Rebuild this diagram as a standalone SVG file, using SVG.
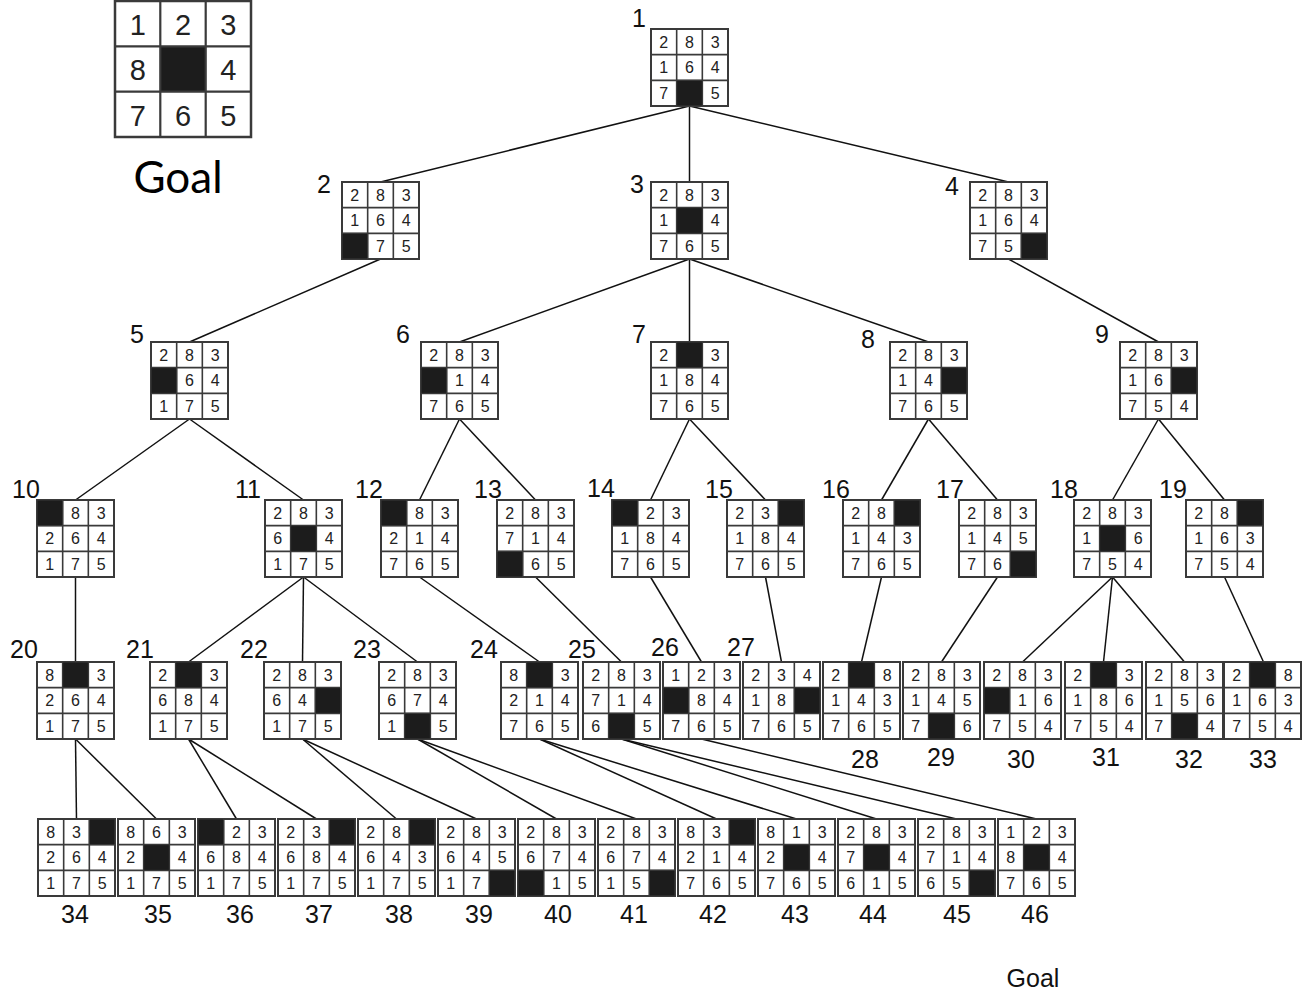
<svg xmlns="http://www.w3.org/2000/svg" xmlns:xlink="http://www.w3.org/1999/xlink" width="1302" height="993" viewBox="0 0 1302 993">
<style>
  .d{font-family:"Liberation Sans",Arial,sans-serif;font-size:16px;fill:#222;text-anchor:middle}
  .gd{font-family:"Liberation Sans",Arial,sans-serif;font-size:29px;fill:#222;text-anchor:middle}
  .lb{font-family:"Liberation Sans",Arial,sans-serif;font-size:25px;fill:#111}
  .lm{font-family:"Liberation Sans",Arial,sans-serif;font-size:25px;fill:#111;text-anchor:middle}
  .cap{font-family:Lato,"Open Sans",sans-serif;font-size:44px;fill:#000}
  .edges line{stroke:#111;stroke-width:1.5}
</style>
<defs>
  <g id="g">
    <rect width="77" height="77" fill="#fff" stroke="#3a3a3a" stroke-width="2"/>
    <path d="M25.67 0V77M51.33 0V77M0 25.67H77M0 51.33H77" stroke="#3a3a3a" stroke-width="1.6" fill="none"/>
  </g>
  <rect id="k" width="25.67" height="25.67" fill="#1c1c1c" stroke="#3a3a3a" stroke-width="1"/>
</defs>
<rect width="1302" height="993" fill="#fff"/>

<!-- goal board -->
<g id="goal">
  <rect x="115" y="1" width="136" height="136" fill="#fff" stroke="#3a3a3a" stroke-width="2.5"/>
  <rect x="160.3" y="46.3" width="45.3" height="45.3" fill="#1c1c1c"/>
  <path d="M160.3 1V137M205.7 1V137M115 46.3H251M115 91.7H251" stroke="#3a3a3a" stroke-width="2.2" fill="none"/>
  <text class="gd" x="137.7 183 228.3" y="34.5">123</text>
  <text class="gd" x="137.7 228.3" y="80">84</text>
  <text class="gd" x="137.7 183 228.3" y="125.5">765</text>
  <text class="cap" x="178" y="193" text-anchor="middle">Goal</text>
</g>

<g class="edges">
  <line x1="689.5" y1="106" x2="380.5" y2="182"/>
  <line x1="689.5" y1="106" x2="689.5" y2="182"/>
  <line x1="689.5" y1="106" x2="1008.5" y2="182"/>
  <line x1="380.5" y1="259" x2="189.5" y2="342"/>
  <line x1="689.5" y1="259" x2="459.5" y2="342"/>
  <line x1="689.5" y1="259" x2="689.5" y2="342"/>
  <line x1="689.5" y1="259" x2="928.5" y2="342"/>
  <line x1="1008.5" y1="259" x2="1158.5" y2="342"/>
  <line x1="189.5" y1="419" x2="75.5" y2="500"/>
  <line x1="189.5" y1="419" x2="303.5" y2="500"/>
  <line x1="459.5" y1="419" x2="419.5" y2="500"/>
  <line x1="459.5" y1="419" x2="535.5" y2="500"/>
  <line x1="689.5" y1="419" x2="650.5" y2="500"/>
  <line x1="689.5" y1="419" x2="765.5" y2="500"/>
  <line x1="928.5" y1="419" x2="881.5" y2="500"/>
  <line x1="928.5" y1="419" x2="997.5" y2="500"/>
  <line x1="1158.5" y1="419" x2="1112.5" y2="500"/>
  <line x1="1158.5" y1="419" x2="1224.5" y2="500"/>
  <line x1="75.5" y1="577" x2="75.5" y2="662"/>
  <line x1="303.5" y1="577" x2="188.5" y2="662"/>
  <line x1="303.5" y1="577" x2="302.5" y2="662"/>
  <line x1="303.5" y1="577" x2="417.5" y2="662"/>
  <line x1="419.5" y1="577" x2="539.5" y2="662"/>
  <line x1="535.5" y1="577" x2="621.5" y2="662"/>
  <line x1="650.5" y1="577" x2="701.5" y2="662"/>
  <line x1="765.5" y1="577" x2="781.5" y2="662"/>
  <line x1="881.5" y1="577" x2="861.5" y2="662"/>
  <line x1="997.5" y1="577" x2="941.5" y2="662"/>
  <line x1="1112.5" y1="577" x2="1022.5" y2="662"/>
  <line x1="1112.5" y1="577" x2="1103.5" y2="662"/>
  <line x1="1112.5" y1="577" x2="1184.5" y2="662"/>
  <line x1="1224.5" y1="577" x2="1263.5" y2="662"/>
  <line x1="75.5" y1="739" x2="76.5" y2="819"/>
  <line x1="75.5" y1="739" x2="156.5" y2="819"/>
  <line x1="188.5" y1="739" x2="236.5" y2="819"/>
  <line x1="188.5" y1="739" x2="316.5" y2="819"/>
  <line x1="302.5" y1="739" x2="396.5" y2="819"/>
  <line x1="302.5" y1="739" x2="476.5" y2="819"/>
  <line x1="417.5" y1="739" x2="556.5" y2="819"/>
  <line x1="417.5" y1="739" x2="636.5" y2="819"/>
  <line x1="539.5" y1="739" x2="716.5" y2="819"/>
  <line x1="539.5" y1="739" x2="796.5" y2="819"/>
  <line x1="621.5" y1="739" x2="876.5" y2="819"/>
  <line x1="621.5" y1="739" x2="956.5" y2="819"/>
  <line x1="701.5" y1="739" x2="1036.5" y2="819"/>
</g>

<!-- level 0 -->
<g id="n1" transform="translate(651 29)"><use href="#g"/><use href="#k" x="25.67" y="51.33"/>
  <text class="d" x="12.8 38.5 64.2" y="18.6">283</text><text class="d" x="12.8 38.5 64.2" y="44.3">164</text><text class="d" x="12.8 64.2" y="70">75</text></g>
<!-- level 1 -->
<g id="n2" transform="translate(342 182)"><use href="#g"/><use href="#k" x="0" y="51.33"/>
  <text class="d" x="12.8 38.5 64.2" y="18.6">283</text><text class="d" x="12.8 38.5 64.2" y="44.3">164</text><text class="d" x="38.5 64.2" y="70">75</text></g>
<g id="n3" transform="translate(651 182)"><use href="#g"/><use href="#k" x="25.67" y="25.67"/>
  <text class="d" x="12.8 38.5 64.2" y="18.6">283</text><text class="d" x="12.8 64.2" y="44.3">14</text><text class="d" x="12.8 38.5 64.2" y="70">765</text></g>
<g id="n4" transform="translate(970 182)"><use href="#g"/><use href="#k" x="51.33" y="51.33"/>
  <text class="d" x="12.8 38.5 64.2" y="18.6">283</text><text class="d" x="12.8 38.5 64.2" y="44.3">164</text><text class="d" x="12.8 38.5" y="70">75</text></g>
<!-- level 2 -->
<g id="n5" transform="translate(151 342)"><use href="#g"/><use href="#k" x="0" y="25.67"/>
  <text class="d" x="12.8 38.5 64.2" y="18.6">283</text><text class="d" x="38.5 64.2" y="44.3">64</text><text class="d" x="12.8 38.5 64.2" y="70">175</text></g>
<g id="n6" transform="translate(421 342)"><use href="#g"/><use href="#k" x="0" y="25.67"/>
  <text class="d" x="12.8 38.5 64.2" y="18.6">283</text><text class="d" x="38.5 64.2" y="44.3">14</text><text class="d" x="12.8 38.5 64.2" y="70">765</text></g>
<g id="n7" transform="translate(651 342)"><use href="#g"/><use href="#k" x="25.67" y="0"/>
  <text class="d" x="12.8 64.2" y="18.6">23</text><text class="d" x="12.8 38.5 64.2" y="44.3">184</text><text class="d" x="12.8 38.5 64.2" y="70">765</text></g>
<g id="n8" transform="translate(890 342)"><use href="#g"/><use href="#k" x="51.33" y="25.67"/>
  <text class="d" x="12.8 38.5 64.2" y="18.6">283</text><text class="d" x="12.8 38.5" y="44.3">14</text><text class="d" x="12.8 38.5 64.2" y="70">765</text></g>
<g id="n9" transform="translate(1120 342)"><use href="#g"/><use href="#k" x="51.33" y="25.67"/>
  <text class="d" x="12.8 38.5 64.2" y="18.6">283</text><text class="d" x="12.8 38.5" y="44.3">16</text><text class="d" x="12.8 38.5 64.2" y="70">754</text></g>
<!-- level 3 -->
<g id="n10" transform="translate(37 500)"><use href="#g"/><use href="#k" x="0" y="0"/>
  <text class="d" x="38.5 64.2" y="18.6">83</text><text class="d" x="12.8 38.5 64.2" y="44.3">264</text><text class="d" x="12.8 38.5 64.2" y="70">175</text></g>
<g id="n11" transform="translate(265 500)"><use href="#g"/><use href="#k" x="25.67" y="25.67"/>
  <text class="d" x="12.8 38.5 64.2" y="18.6">283</text><text class="d" x="12.8 64.2" y="44.3">64</text><text class="d" x="12.8 38.5 64.2" y="70">175</text></g>
<g id="n12" transform="translate(381 500)"><use href="#g"/><use href="#k" x="0" y="0"/>
  <text class="d" x="38.5 64.2" y="18.6">83</text><text class="d" x="12.8 38.5 64.2" y="44.3">214</text><text class="d" x="12.8 38.5 64.2" y="70">765</text></g>
<g id="n13" transform="translate(497 500)"><use href="#g"/><use href="#k" x="0" y="51.33"/>
  <text class="d" x="12.8 38.5 64.2" y="18.6">283</text><text class="d" x="12.8 38.5 64.2" y="44.3">714</text><text class="d" x="38.5 64.2" y="70">65</text></g>
<g id="n14" transform="translate(612 500)"><use href="#g"/><use href="#k" x="0" y="0"/>
  <text class="d" x="38.5 64.2" y="18.6">23</text><text class="d" x="12.8 38.5 64.2" y="44.3">184</text><text class="d" x="12.8 38.5 64.2" y="70">765</text></g>
<g id="n15" transform="translate(727 500)"><use href="#g"/><use href="#k" x="51.33" y="0"/>
  <text class="d" x="12.8 38.5" y="18.6">23</text><text class="d" x="12.8 38.5 64.2" y="44.3">184</text><text class="d" x="12.8 38.5 64.2" y="70">765</text></g>
<g id="n16" transform="translate(843 500)"><use href="#g"/><use href="#k" x="51.33" y="0"/>
  <text class="d" x="12.8 38.5" y="18.6">28</text><text class="d" x="12.8 38.5 64.2" y="44.3">143</text><text class="d" x="12.8 38.5 64.2" y="70">765</text></g>
<g id="n17" transform="translate(959 500)"><use href="#g"/><use href="#k" x="51.33" y="51.33"/>
  <text class="d" x="12.8 38.5 64.2" y="18.6">283</text><text class="d" x="12.8 38.5 64.2" y="44.3">145</text><text class="d" x="12.8 38.5" y="70">76</text></g>
<g id="n18" transform="translate(1074 500)"><use href="#g"/><use href="#k" x="25.67" y="25.67"/>
  <text class="d" x="12.8 38.5 64.2" y="18.6">283</text><text class="d" x="12.8 64.2" y="44.3">16</text><text class="d" x="12.8 38.5 64.2" y="70">754</text></g>
<g id="n19" transform="translate(1186 500)"><use href="#g"/><use href="#k" x="51.33" y="0"/>
  <text class="d" x="12.8 38.5" y="18.6">28</text><text class="d" x="12.8 38.5 64.2" y="44.3">163</text><text class="d" x="12.8 38.5 64.2" y="70">754</text></g>
<!-- level 4 -->
<g id="n20" transform="translate(37 662)"><use href="#g"/><use href="#k" x="25.67" y="0"/>
  <text class="d" x="12.8 64.2" y="18.6">83</text><text class="d" x="12.8 38.5 64.2" y="44.3">264</text><text class="d" x="12.8 38.5 64.2" y="70">175</text></g>
<g id="n21" transform="translate(150 662)"><use href="#g"/><use href="#k" x="25.67" y="0"/>
  <text class="d" x="12.8 64.2" y="18.6">23</text><text class="d" x="12.8 38.5 64.2" y="44.3">684</text><text class="d" x="12.8 38.5 64.2" y="70">175</text></g>
<g id="n22" transform="translate(264 662)"><use href="#g"/><use href="#k" x="51.33" y="25.67"/>
  <text class="d" x="12.8 38.5 64.2" y="18.6">283</text><text class="d" x="12.8 38.5" y="44.3">64</text><text class="d" x="12.8 38.5 64.2" y="70">175</text></g>
<g id="n23" transform="translate(379 662)"><use href="#g"/><use href="#k" x="25.67" y="51.33"/>
  <text class="d" x="12.8 38.5 64.2" y="18.6">283</text><text class="d" x="12.8 38.5 64.2" y="44.3">674</text><text class="d" x="12.8 64.2" y="70">15</text></g>
<g id="n24" transform="translate(501 662)"><use href="#g"/><use href="#k" x="25.67" y="0"/>
  <text class="d" x="12.8 64.2" y="18.6">83</text><text class="d" x="12.8 38.5 64.2" y="44.3">214</text><text class="d" x="12.8 38.5 64.2" y="70">765</text></g>
<g id="n25" transform="translate(583 662)"><use href="#g"/><use href="#k" x="25.67" y="51.33"/>
  <text class="d" x="12.8 38.5 64.2" y="18.6">283</text><text class="d" x="12.8 38.5 64.2" y="44.3">714</text><text class="d" x="12.8 64.2" y="70">65</text></g>
<g id="n26" transform="translate(663 662)"><use href="#g"/><use href="#k" x="0" y="25.67"/>
  <text class="d" x="12.8 38.5 64.2" y="18.6">123</text><text class="d" x="38.5 64.2" y="44.3">84</text><text class="d" x="12.8 38.5 64.2" y="70">765</text></g>
<g id="n27" transform="translate(743 662)"><use href="#g"/><use href="#k" x="51.33" y="25.67"/>
  <text class="d" x="12.8 38.5 64.2" y="18.6">234</text><text class="d" x="12.8 38.5" y="44.3">18</text><text class="d" x="12.8 38.5 64.2" y="70">765</text></g>
<g id="n28" transform="translate(823 662)"><use href="#g"/><use href="#k" x="25.67" y="0"/>
  <text class="d" x="12.8 64.2" y="18.6">28</text><text class="d" x="12.8 38.5 64.2" y="44.3">143</text><text class="d" x="12.8 38.5 64.2" y="70">765</text></g>
<g id="n29" transform="translate(903 662)"><use href="#g"/><use href="#k" x="25.67" y="51.33"/>
  <text class="d" x="12.8 38.5 64.2" y="18.6">283</text><text class="d" x="12.8 38.5 64.2" y="44.3">145</text><text class="d" x="12.8 64.2" y="70">76</text></g>
<g id="n30" transform="translate(984 662)"><use href="#g"/><use href="#k" x="0" y="25.67"/>
  <text class="d" x="12.8 38.5 64.2" y="18.6">283</text><text class="d" x="38.5 64.2" y="44.3">16</text><text class="d" x="12.8 38.5 64.2" y="70">754</text></g>
<g id="n31" transform="translate(1065 662)"><use href="#g"/><use href="#k" x="25.67" y="0"/>
  <text class="d" x="12.8 64.2" y="18.6">23</text><text class="d" x="12.8 38.5 64.2" y="44.3">186</text><text class="d" x="12.8 38.5 64.2" y="70">754</text></g>
<g id="n32" transform="translate(1146 662)"><use href="#g"/><use href="#k" x="25.67" y="51.33"/>
  <text class="d" x="12.8 38.5 64.2" y="18.6">283</text><text class="d" x="12.8 38.5 64.2" y="44.3">156</text><text class="d" x="12.8 64.2" y="70">74</text></g>
<g id="n33" transform="translate(1224 662)"><use href="#g"/><use href="#k" x="25.67" y="0"/>
  <text class="d" x="12.8 64.2" y="18.6">28</text><text class="d" x="12.8 38.5 64.2" y="44.3">163</text><text class="d" x="12.8 38.5 64.2" y="70">754</text></g>
<!-- level 5 -->
<g id="n34" transform="translate(38 819)"><use href="#g"/><use href="#k" x="51.33" y="0"/>
  <text class="d" x="12.8 38.5" y="18.6">83</text><text class="d" x="12.8 38.5 64.2" y="44.3">264</text><text class="d" x="12.8 38.5 64.2" y="70">175</text></g>
<g id="n35" transform="translate(118 819)"><use href="#g"/><use href="#k" x="25.67" y="25.67"/>
  <text class="d" x="12.8 38.5 64.2" y="18.6">863</text><text class="d" x="12.8 64.2" y="44.3">24</text><text class="d" x="12.8 38.5 64.2" y="70">175</text></g>
<g id="n36" transform="translate(198 819)"><use href="#g"/><use href="#k" x="0" y="0"/>
  <text class="d" x="38.5 64.2" y="18.6">23</text><text class="d" x="12.8 38.5 64.2" y="44.3">684</text><text class="d" x="12.8 38.5 64.2" y="70">175</text></g>
<g id="n37" transform="translate(278 819)"><use href="#g"/><use href="#k" x="51.33" y="0"/>
  <text class="d" x="12.8 38.5" y="18.6">23</text><text class="d" x="12.8 38.5 64.2" y="44.3">684</text><text class="d" x="12.8 38.5 64.2" y="70">175</text></g>
<g id="n38" transform="translate(358 819)"><use href="#g"/><use href="#k" x="51.33" y="0"/>
  <text class="d" x="12.8 38.5" y="18.6">28</text><text class="d" x="12.8 38.5 64.2" y="44.3">643</text><text class="d" x="12.8 38.5 64.2" y="70">175</text></g>
<g id="n39" transform="translate(438 819)"><use href="#g"/><use href="#k" x="51.33" y="51.33"/>
  <text class="d" x="12.8 38.5 64.2" y="18.6">283</text><text class="d" x="12.8 38.5 64.2" y="44.3">645</text><text class="d" x="12.8 38.5" y="70">17</text></g>
<g id="n40" transform="translate(518 819)"><use href="#g"/><use href="#k" x="0" y="51.33"/>
  <text class="d" x="12.8 38.5 64.2" y="18.6">283</text><text class="d" x="12.8 38.5 64.2" y="44.3">674</text><text class="d" x="38.5 64.2" y="70">15</text></g>
<g id="n41" transform="translate(598 819)"><use href="#g"/><use href="#k" x="51.33" y="51.33"/>
  <text class="d" x="12.8 38.5 64.2" y="18.6">283</text><text class="d" x="12.8 38.5 64.2" y="44.3">674</text><text class="d" x="12.8 38.5" y="70">15</text></g>
<g id="n42" transform="translate(678 819)"><use href="#g"/><use href="#k" x="51.33" y="0"/>
  <text class="d" x="12.8 38.5" y="18.6">83</text><text class="d" x="12.8 38.5 64.2" y="44.3">214</text><text class="d" x="12.8 38.5 64.2" y="70">765</text></g>
<g id="n43" transform="translate(758 819)"><use href="#g"/><use href="#k" x="25.67" y="25.67"/>
  <text class="d" x="12.8 38.5 64.2" y="18.6">813</text><text class="d" x="12.8 64.2" y="44.3">24</text><text class="d" x="12.8 38.5 64.2" y="70">765</text></g>
<g id="n44" transform="translate(838 819)"><use href="#g"/><use href="#k" x="25.67" y="25.67"/>
  <text class="d" x="12.8 38.5 64.2" y="18.6">283</text><text class="d" x="12.8 64.2" y="44.3">74</text><text class="d" x="12.8 38.5 64.2" y="70">615</text></g>
<g id="n45" transform="translate(918 819)"><use href="#g"/><use href="#k" x="51.33" y="51.33"/>
  <text class="d" x="12.8 38.5 64.2" y="18.6">283</text><text class="d" x="12.8 38.5 64.2" y="44.3">714</text><text class="d" x="12.8 38.5" y="70">65</text></g>
<g id="n46" transform="translate(998 819)"><use href="#g"/><use href="#k" x="25.67" y="25.67"/>
  <text class="d" x="12.8 38.5 64.2" y="18.6">123</text><text class="d" x="12.8 64.2" y="44.3">84</text><text class="d" x="12.8 38.5 64.2" y="70">765</text></g>

<!-- order-of-expansion numbers -->
<g id="labels">
  <text class="lb" x="632" y="27">1</text>
  <text class="lb" x="317" y="193">2</text>
  <text class="lb" x="630" y="193">3</text>
  <text class="lb" x="945" y="195">4</text>
  <text class="lb" x="130" y="343">5</text>
  <text class="lb" x="396" y="343">6</text>
  <text class="lb" x="632" y="343">7</text>
  <text class="lb" x="861" y="348">8</text>
  <text class="lb" x="1095" y="343">9</text>
  <text class="lb" x="12" y="498">10</text>
  <text class="lb" x="235" y="498">11</text>
  <text class="lb" x="355" y="498">12</text>
  <text class="lb" x="474" y="498">13</text>
  <text class="lb" x="587" y="497">14</text>
  <text class="lb" x="705" y="498">15</text>
  <text class="lb" x="822" y="498">16</text>
  <text class="lb" x="936" y="498">17</text>
  <text class="lb" x="1050" y="498">18</text>
  <text class="lb" x="1159" y="498">19</text>
  <text class="lb" x="10" y="658">20</text>
  <text class="lb" x="126" y="658">21</text>
  <text class="lb" x="240" y="658">22</text>
  <text class="lb" x="353" y="658">23</text>
  <text class="lb" x="470" y="658">24</text>
  <text class="lb" x="568" y="658">25</text>
  <text class="lb" x="651" y="656">26</text>
  <text class="lb" x="727" y="656">27</text>
  <text class="lm" x="865" y="768">28</text>
  <text class="lm" x="941" y="766">29</text>
  <text class="lm" x="1021" y="768">30</text>
  <text class="lm" x="1106" y="766">31</text>
  <text class="lm" x="1189" y="768">32</text>
  <text class="lm" x="1263" y="768">33</text>
  <text class="lm" x="75" y="923">34</text>
  <text class="lm" x="158" y="923">35</text>
  <text class="lm" x="240" y="923">36</text>
  <text class="lm" x="319" y="923">37</text>
  <text class="lm" x="399" y="923">38</text>
  <text class="lm" x="479" y="923">39</text>
  <text class="lm" x="558" y="923">40</text>
  <text class="lm" x="634" y="923">41</text>
  <text class="lm" x="713" y="923">42</text>
  <text class="lm" x="795" y="923">43</text>
  <text class="lm" x="873" y="923">44</text>
  <text class="lm" x="957" y="923">45</text>
  <text class="lm" x="1035" y="923">46</text>
  <text class="lm" x="1033" y="987" font-size="24">Goal</text>
</g>
</svg>
